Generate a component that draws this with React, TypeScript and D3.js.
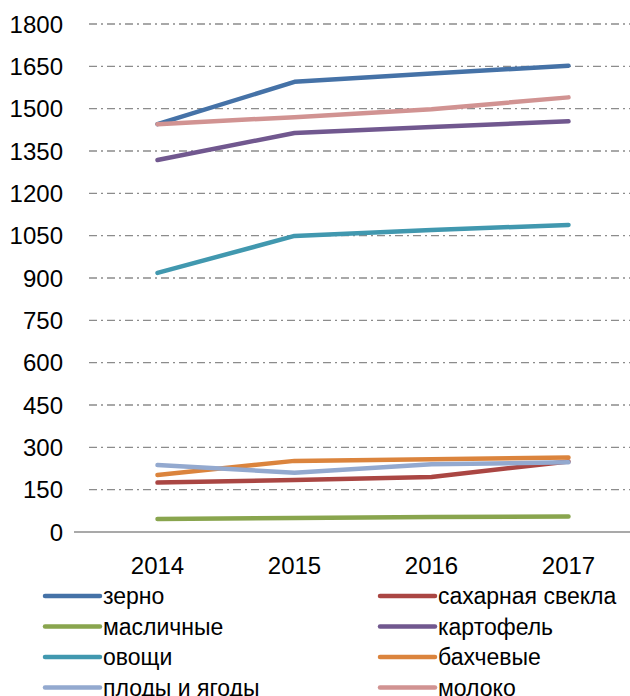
import React from "react";
import * as d3 from "d3";

const years = ["2014", "2015", "2016", "2017"];
const seriesNames = [
  "зерно",
  "сахарная свекла",
  "масличные",
  "картофель",
  "овощи",
  "бахчевые",
  "плоды и ягоды",
  "молоко",
];
const zerno = [1445, 1595, 1625, 1652];
const svekla = [175, 184, 195, 250];
const maslichnye = [46, 50, 53, 55];
const kartofel = [1318, 1414, 1435, 1455];
const ovoshchi = [918, 1049, 1070, 1088];
const bakhchevye = [202, 252, 258, 264];
const plody = [237, 210, 240, 247];
const moloko = [1445, 1470, 1498, 1540];
const yTicks = [0, 150, 300, 450, 600, 750, 900, 1050, 1200, 1350, 1500, 1650, 1800];
const colors = ["#4572A7", "#AA4643", "#89A54E", "#71588F", "#4198AF", "#DB843D", "#93A9CF", "#D19392"];

const allValues = [zerno, svekla, maslichnye, kartofel, ovoshchi, bakhchevye, plody, moloko];

const W = 630;
const H = 696;
const font = "'Liberation Sans', Arial, sans-serif";

export default function App() {
  const x = d3.scalePoint<string>().domain(years).range([89, 637]).padding(0.5);
  const y = d3.scaleLinear().domain([0, 1800]).range([532, 24]);
  const line = d3
    .line<number>()
    .x((_, i) => x(years[i]) as number)
    .y((d) => y(d));

  return (
    <div style={{ position: "absolute", left: 0, top: 0 }}>
      <svg width={W} height={H} style={{ display: "block", background: "#fff" }}>
        {yTicks.map((t) => (
          <g key={t}>
            {t > 0 && (
              <line
                x1={89}
                x2={W}
                y1={y(t)}
                y2={y(t)}
                stroke="#8c8c8c"
                strokeWidth={1.3}
                strokeDasharray="8,4,2,4"
              />
            )}
            <text
              x={63}
              y={y(t)}
              dy="0.36em"
              textAnchor="end"
              fontFamily={font}
              fontSize={24}
              fill="#000"
            >
              {t}
            </text>
          </g>
        ))}
        <line x1={74} x2={W} y1={y(0)} y2={y(0)} stroke="#8c8c8c" strokeWidth={1.5} />
        {years.map((yr) => (
          <text
            key={yr}
            x={x(yr)}
            y={574}
            textAnchor="middle"
            fontFamily={font}
            fontSize={24}
            fill="#000"
          >
            {yr}
          </text>
        ))}
        {allValues.map((vals, i) => (
          <path
            key={seriesNames[i]}
            d={line(vals) || ""}
            fill="none"
            stroke={colors[i]}
            strokeWidth={4.5}
            strokeLinecap="round"
            strokeLinejoin="round"
          />
        ))}
        {seriesNames.map((name, i) => {
          const col = i % 2;
          const row = Math.floor(i / 2);
          const lx = col === 0 ? 45 : 380;
          const ly = 596 + row * 30.5;
          return (
            <g key={name}>
              <line
                x1={lx}
                x2={lx + 55}
                y1={ly}
                y2={ly}
                stroke={colors[i]}
                strokeWidth={4.5}
                strokeLinecap="round"
              />
              <text
                x={lx + 58}
                y={ly}
                dy="0.35em"
                fontFamily={font}
                fontSize={23}
                fill="#000"
              >
                {name}
              </text>
            </g>
          );
        })}
      </svg>
    </div>
  );
}
